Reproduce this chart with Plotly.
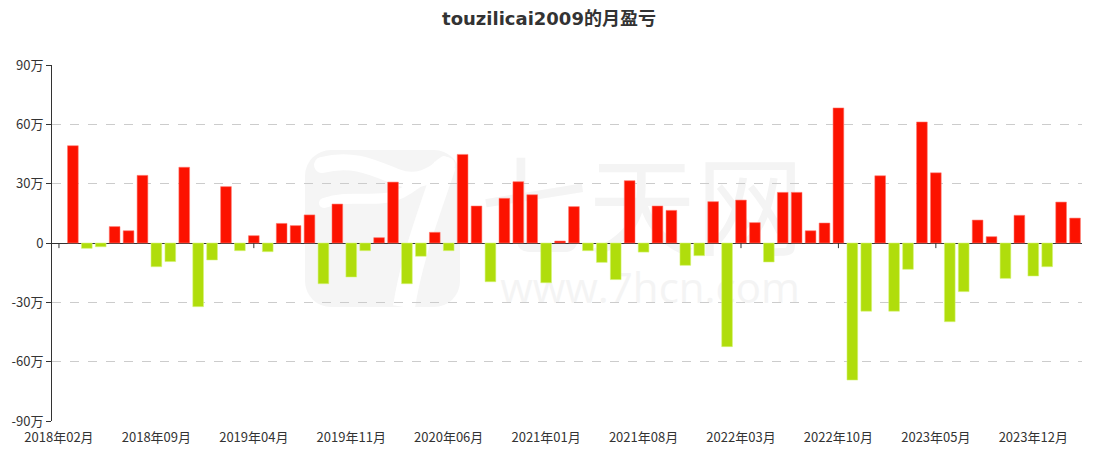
import base64
import plotly.graph_objects as go

# ---------------- data ----------------
start_year, start_month, n_months = 2018, 2, 74
months = []
for k in range(n_months):
    y = start_year + (start_month - 1 + k) // 12
    m = (start_month - 1 + k) % 12 + 1
    months.append(f"{y}年{m:02d}月")

# monthly profit / loss, unit: 万 (first month has no value)
values = [
    None, 49.2, -2.7, -1.9, 8.3, 6.2, 34.2, -12.0, -9.4, 38.3,
    -32.2, -8.6, 28.5, -3.9, 3.7, -4.4, 9.9, 8.8, 14.2, -20.6,
    19.7, -17.2, -3.9, 2.7, 30.8, -20.6, -6.7, 5.4, -3.9, 44.8,
    18.7, -19.6, 22.6, 31.0, 24.4, -20.1, 1.0, 18.4, -3.9, -9.8,
    -18.5, 31.5, -4.6, 18.7, 16.5, -11.3, -6.4, 20.9, -52.4, 21.7,
    10.3, -9.6, 25.6, 25.6, 6.2, 10.1, 68.3, -69.3, -34.5, 34.0,
    -34.5, -13.3, 61.2, 35.5, -39.8, -24.6, 11.6, 3.2, -17.9, 14.0,
    -16.7, -12.0, 20.7, 12.6,
]

y_tickvals = [-90, -60, -30, 0, 30, 60, 90]
y_ticktext = ["-90万", "-60万", "-30万", "0", "30万", "60万", "90万"]
x_label_step = 7
x_tickvals = months[::x_label_step]

title_text = "touzilicai2009的月盈亏"

RED = "#fc1200"
GREEN = "#b0dd0c"

colors = [RED if (v is not None and v >= 0) else GREEN for v in values]
edge = ["rgba(255,120,110,0.55)" if (v is not None and v >= 0) else "rgba(215,245,120,0.55)" for v in values]

fig = go.Figure()

fig.add_trace(go.Bar(
    x=months, y=values,
    marker=dict(color=colors, line=dict(color=edge, width=1)),
    hoverinfo="x+y",
    showlegend=False,
))

# small downward tick marks on the zero axis (visible where no negative bar covers them)
tick_x = [m for i, m in enumerate(months) if i % x_label_step == 0 and (values[i] is None or values[i] >= 0)]
fig.add_trace(go.Scatter(
    x=tick_x, y=[0] * len(tick_x), mode="markers",
    marker=dict(size=0.1, color="rgba(0,0,0,0)"),
    error_y=dict(type="data", symmetric=False, array=[0] * len(tick_x),
                 arrayminus=[2.6] * len(tick_x), width=0, color="#333", thickness=1),
    hoverinfo="skip", showlegend=False,
))

# ---------------- watermark (image below the plot) ----------------
svg = """<svg xmlns='http://www.w3.org/2000/svg' width='1030' height='356' viewBox='0 0 1030 356'>
<rect x='253' y='85' width='155' height='157' rx='26' ry='26' fill='#f5f5f5'/>
<path d='M 270 100 C 300 92, 320 102, 345 112 C 365 120, 380 110, 395 100' stroke='#ffffff' stroke-width='16' fill='none' stroke-linecap='round'/>
<path d='M 272 138 C 300 128, 325 140, 350 128 C 370 118, 385 100, 392 96' stroke='#ffffff' stroke-width='10' fill='none' stroke-linecap='round'/>
<path d='M 393 100 C 380 140, 360 190, 352 242' stroke='#ffffff' stroke-width='22' fill='none'/>
<text x='590' y='182' text-anchor='middle' font-family='Noto Sans CJK SC' font-size='108' fill='#f4f4f4'>七天网</text>
<text x='598' y='238' text-anchor='middle' font-family='Open Sans, DejaVu Sans' font-size='42' fill='#f4f4f4'>www.7hcn.com</text>
</svg>"""
svg_uri = "data:image/svg+xml;base64," + base64.b64encode(svg.encode("utf-8")).decode("ascii")

fig.add_layout_image(dict(
    source=svg_uri, xref="paper", yref="paper", x=0, y=1, sizex=1, sizey=1,
    xanchor="left", yanchor="top", sizing="stretch", layer="below", opacity=1,
))

# the page body has an 8px margin, so the figure is sized/positioned to compensate
W, H, OFF = 1098, 452, 8
fig.update_layout(
    width=W - OFF, height=H - OFF,
    margin=dict(l=52 - OFF, r=16, t=65 - OFF, b=31, pad=0, autoexpand=False),
    paper_bgcolor="white", plot_bgcolor="white",
    bargap=0.23,
    font=dict(family="Noto Sans CJK SC, Noto Sans, sans-serif", size=13, color="#333"),
    title=dict(text=title_text, x=(549 - OFF) / (W - OFF), xref="container", xanchor="center",
               y=1 - (19 - OFF) / (H - OFF), yref="container", yanchor="middle",
               font=dict(family="DejaVu Sans, Noto Sans CJK SC, sans-serif", size=18, color="#333", weight="bold")),
    xaxis=dict(
        type="category", categoryorder="array", categoryarray=months,
        range=[-0.5, len(months) - 0.5],
        tickmode="array", tickvals=x_tickvals, ticktext=x_tickvals,
        showgrid=False, showline=False, ticks="outside", ticklen=4,
        tickcolor="rgba(0,0,0,0)", zeroline=False, automargin=False,
        tickfont=dict(size=13, color="#333"),
        fixedrange=True,
    ),
    yaxis=dict(
        range=[-90, 90],
        tickmode="array", tickvals=y_tickvals, ticktext=y_ticktext,
        showgrid=True, gridcolor="#cccccc", griddash="dash", gridwidth=1,
        showline=True, linecolor="#333", linewidth=1,
        ticks="outside", ticklen=5, tickcolor="#333",
        zeroline=True, zerolinecolor="#333", zerolinewidth=1, automargin=False,
        tickfont=dict(size=13, color="#333"),
        fixedrange=True,
    ),
)

fig.write_html("out.html")
